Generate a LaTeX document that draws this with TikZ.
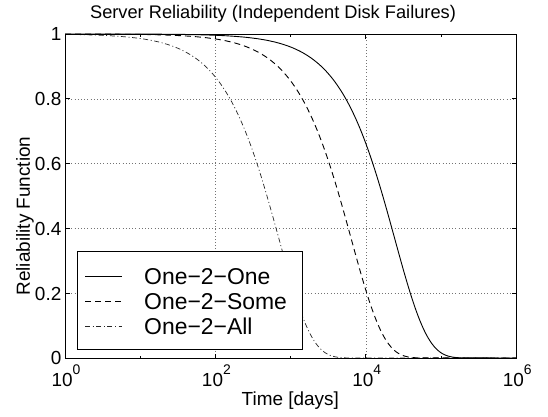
\documentclass[tikz,border=0pt]{standalone}
\usepackage{fontspec}
\setmainfont{Liberation Sans}
\begin{document}
\begin{tikzpicture}[x=1bp,y=1bp,
  frame/.style={line width=0.8bp, black},
  gridline/.style={line width=0.6bp, black!55, dash pattern=on 0.8bp off 2.4bp},
  tickline/.style={line width=0.8bp, black},
  lbl/.style={font=\fontsize{19}{19}\selectfont, inner sep=0pt},
  ttl/.style={font=\fontsize{18.3}{18.3}\selectfont, inner sep=0pt},
  leglbl/.style={font=\fontsize{23}{23}\selectfont, inner sep=0pt, anchor=base west},
  oneone/.style={line width=0.9bp, black},
  onesome/.style={line width=0.9bp, black, dash pattern=on 6bp off 4bp},
  oneall/.style={line width=0.7bp, black!85, dash pattern=on 5bp off 2.6bp on 1bp off 2.6bp},
]
\useasboundingbox (0,0) rectangle (548,416);
\fill[white] (0,0) rectangle (548,416);

% axes box corners: x = 65 + 75.2*log10(t), y = 58 + 324*R
\coordinate (ll) at (65,58);
\coordinate (ur) at (516,382);

% grid at labelled ticks
\foreach \d in {2,4}
  \draw[gridline] ({65+75.2*\d},58) -- ({65+75.2*\d},382);
\foreach \r in {0.2,0.4,0.6,0.8}
  \draw[gridline] (65,{58+324*\r}) -- (516,{58+324*\r});

% reliability curves R(t) = exp(-t/tau), plotted against log10(t)
\begin{scope}[shift={(65,58)}, x=75.2bp, y=324bp]
  \draw[oneall]  plot[domain=0:3.75, samples=200] (\x,{exp(-(10^(\x-2.845)))}) -- (6,0);
  \draw[onesome] plot[domain=0:4.71, samples=200] (\x,{exp(-(10^(\x-3.806)))}) -- (6,0);
  \draw[oneone]  plot[domain=0:5.28, samples=200] (\x,{exp(-(10^(\x-4.385)))}) -- (6,0);
\end{scope}

% ticks
\foreach \d in {0,2,4,6} {
  \draw[tickline] ({65+75.2*\d},58) -- ++(0,4.5);
  \draw[tickline] ({65+75.2*\d},382) -- ++(0,-4.5);
}
\foreach \d in {1,3,5} {
  \draw[tickline] ({65+75.2*\d},58) -- ++(0,2.5);
  \draw[tickline] ({65+75.2*\d},382) -- ++(0,-2.5);
}
\foreach \r in {0,0.2,0.4,0.6,0.8,1} {
  \draw[tickline] (65,{58+324*\r}) -- ++(4.5,0);
  \draw[tickline] (516,{58+324*\r}) -- ++(-4.5,0);
}

% legend
\node[draw, fill=white, line width=0.8bp, anchor=south west, inner sep=0pt,
      minimum width=225bp, minimum height=97.6bp] (legend) at (76.7,66.7) {};
\coordinate (s1a) at (85,140);   \coordinate (s1b) at (121.7,140);
\coordinate (s2a) at (85,115);   \coordinate (s2b) at (121.7,115);
\coordinate (s3a) at (85,90);    \coordinate (s3b) at (121.7,90);
\draw[oneone]  (s1a) -- (s1b);
\draw[onesome] (s2a) -- (s2b);
\draw[oneall]  (s3a) -- (s3b);
\node[leglbl] (l1) at (144,131.5) {One−2−One};
\node[leglbl] (l2) at (144,106.5) {One−2−Some};
\node[leglbl] (l3) at (144,81.5)  {One−2−All};

% axes frame
\draw[frame] (ll) rectangle (ur);

% tick labels
\foreach \r/\t in {0/0,0.2/0.2,0.4/0.4,0.6/0.6,0.8/0.8,1/1}
  \node[lbl, anchor=base east] (yl\t) at (61.5,{58+324*\r-6.8}) {\t};
\foreach \d in {0,2,4,6}
  \node[lbl, anchor=base] (xl\d) at ({66+75.2*\d},29.3)
    {10\raisebox{12bp}{\fontsize{14}{14}\selectfont\d}};

% title and axis labels
\node[ttl, anchor=base] (title) at (273,397) {Server Reliability (Independent Disk Failures)};
\node[lbl, anchor=base] (xlab) at (290.3,11) {Time [days]};
\node[lbl, anchor=base, rotate=90] (ylab) at (29.8,200) {Reliability Function};
\end{tikzpicture}
\end{document}
